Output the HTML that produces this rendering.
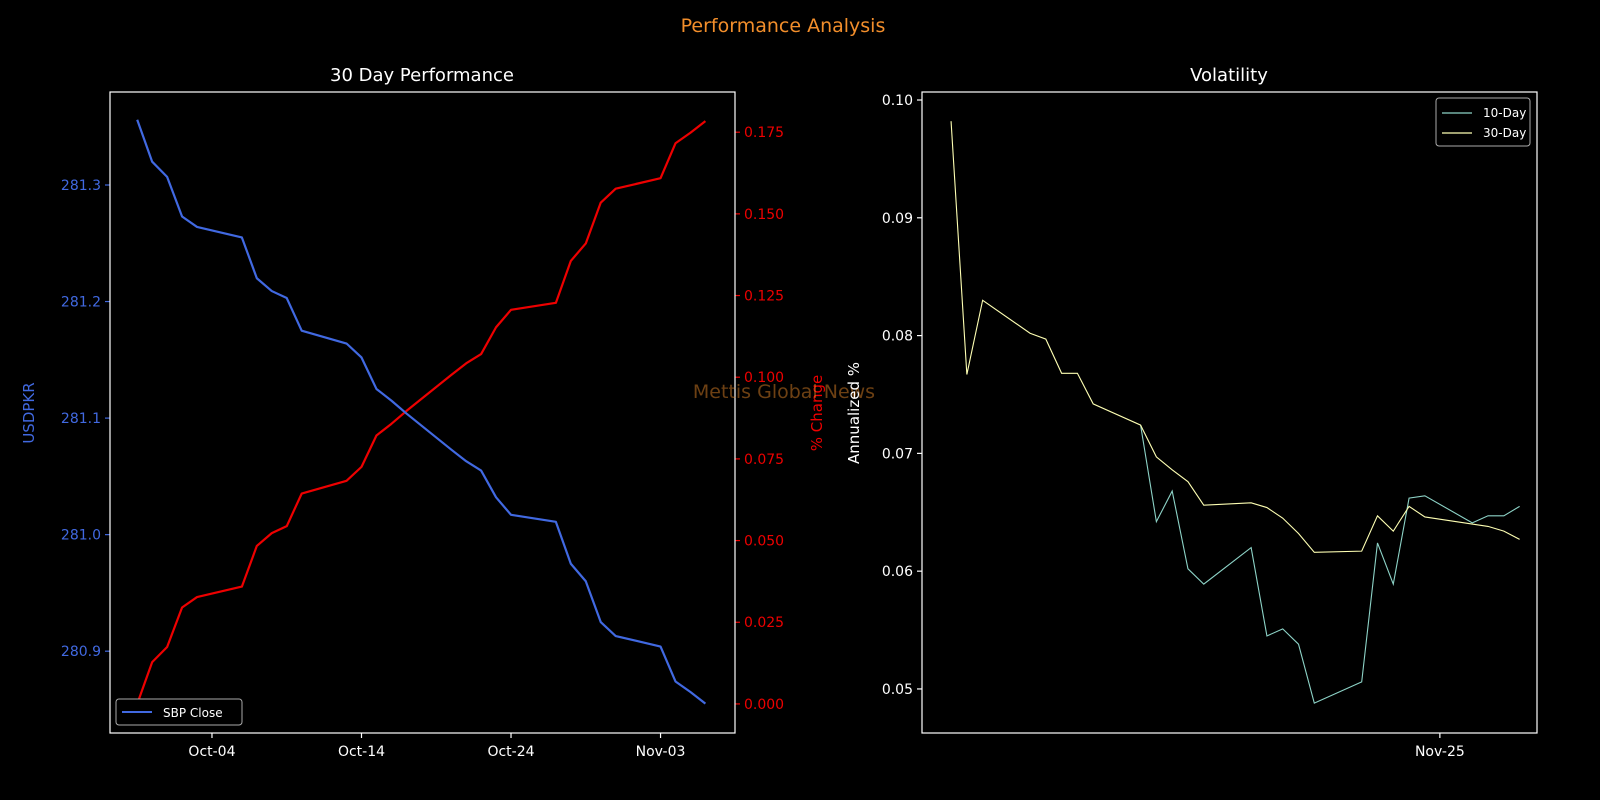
<!DOCTYPE html>
<html><head><meta charset="utf-8"><style>
html,body{margin:0;padding:0;background:#000;}
svg{display:block;font-family:"DejaVu Sans","Liberation Sans",sans-serif;}
</style></head><body>
<svg id="chart" width="1600" height="800" viewBox="0 0 1600 800">
<rect width="1600" height="800" fill="#000"/>
<text x="783" y="32" text-anchor="middle" fill="#f28e2b" font-size="19">Performance Analysis</text>
<g id="left"></g><g id="right"></g>
</svg>
<script>
// ---- Left chart data ----
const closeDates = ["2025-09-29","2025-09-30","2025-10-01","2025-10-02","2025-10-03","2025-10-06","2025-10-07","2025-10-08","2025-10-09","2025-10-10","2025-10-13","2025-10-14","2025-10-15","2025-10-16","2025-10-17","2025-10-20","2025-10-21","2025-10-22","2025-10-23","2025-10-24","2025-10-27","2025-10-28","2025-10-29","2025-10-30","2025-10-31","2025-11-03","2025-11-04","2025-11-05","2025-11-06"];
const closeValues = [281.356,281.320,281.307,281.273,281.264,281.255,281.220,281.209,281.203,281.175,281.164,281.152,281.125,281.115,281.104,281.073,281.063,281.055,281.032,281.017,281.011,280.975,280.960,280.925,280.913,280.904,280.874,280.865,280.855];
const leftTicks = [280.9,281.0,281.1,281.2,281.3];
const pctTicks = [0,0.025,0.05,0.075,0.1,0.125,0.15,0.175];
const dateTicks = ["2025-10-04","2025-10-14","2025-10-24","2025-11-03"];
const dateTickLabels = ["Oct-04","Oct-14","Oct-24","Nov-03"];
// ---- Right chart data (trading day index) ----
const volDays = [0,1,2,5,6,7,8,9,12,13,14,15,16,19,20,21,22,23,26,27,28,29,30,33,34,35,36];
const vol30 = [0.0982,0.0767,0.0830,0.0802,0.0797,0.0768,0.0768,0.0742,0.0724,0.0697,0.0686,0.0676,0.0656,0.0658,0.0654,0.0645,0.0632,0.0616,0.0617,0.0647,0.0634,0.0655,0.0646,0.0640,0.0638,0.0634,0.0627];
const vol10Days = [12,13,14,15,16,19,20,21,22,23,26,27,28,29,30,33,34,35,36];
const vol10 = [0.0724,0.0642,0.0668,0.0602,0.0589,0.0620,0.0545,0.0551,0.0538,0.0488,0.0506,0.0624,0.0589,0.0662,0.0664,0.0641,0.0647,0.0647,0.0655];
const volTicks = [0.05,0.06,0.07,0.08,0.09,0.10];
const volXTickDay = [30.95];
const volXTickLabels = ["Nov-25"];

const NS="http://www.w3.org/2000/svg";
function mk(parent,tag,attrs,text){const e=document.createElementNS(NS,tag);for(const k in attrs)e.setAttribute(k,attrs[k]);if(text!==undefined)e.textContent=text;parent.appendChild(e);return e;}
const L=document.getElementById('left'), R=document.getElementById('right');
const day0=Date.UTC(2025,9,4);
function dnum(s){const p=s.split('-');return (Date.UTC(+p[0],p[1]-1,+p[2])-day0)/86400000;}
// left axes
const lx0=110,lx1=735,ly0=92,ly1=733;
const xMin=-6.82,xMax=34.98;
const X=d=>lx0+(d-xMin)/(xMax-xMin)*(lx1-lx0);
const yMinL=280.8298,yMaxL=281.3798;
const YL=v=>ly1-(v-yMinL)/(yMaxL-yMinL)*(ly1-ly0);
const pMin=-0.0089,pMax=0.1873;
const YP=v=>ly1-(v-pMin)/(pMax-pMin)*(ly1-ly0);
let t;
t=mk(L,'text',{x:422,y:81,'text-anchor':'middle',fill:'#fff','font-size':18});
t.textContent='30 Day Performance';


leftTicks.forEach(v=>{const y=YL(v);
 mk(L,'line',{x1:lx0-5,x2:lx0,y1:y,y2:y,stroke:'#4169e1','stroke-width':1.2});
 const e=mk(L,'text',{x:lx0-9,y:y+5,'text-anchor':'end',fill:'#4169e1','font-size':14},v.toFixed(1));
 
 });
pctTicks.forEach(v=>{const y=YP(v);
 mk(L,'line',{x1:lx1,x2:lx1+5,y1:y,y2:y,stroke:'#e00','stroke-width':1.2});
 const e=mk(L,'text',{x:lx1+9,y:y+5,fill:'#e00','font-size':14},v.toFixed(3));
 
 });
dateTicks.forEach((d,i)=>{const x=X(dnum(d));
 mk(L,'line',{x1:x,x2:x,y1:ly1,y2:ly1+5,stroke:'#fff','stroke-width':1.2});
 const e=mk(L,'text',{x:x,y:ly1+23,'text-anchor':'middle',fill:'#fff','font-size':14},dateTickLabels[i]);
 
 });
t=mk(L,'text',{transform:'translate(34,413) rotate(-90)','text-anchor':'middle',fill:'#4169e1','font-size':15},'USDPKR');


t=mk(L,'text',{transform:'translate(822,413) rotate(-90)','text-anchor':'middle',fill:'#e00','font-size':15},'% Change');


const base=closeValues[0];
const pct=closeValues.map(v=>(base/v-1)*100);
let p=mk(L,'polyline',{points:closeDates.map((d,i)=>X(dnum(d))+','+YP(pct[i])).join(' '),fill:'none',stroke:'#e00','stroke-width':2.2,'stroke-linejoin':'round'});


p=mk(L,'polyline',{points:closeDates.map((d,i)=>X(dnum(d))+','+YL(closeValues[i])).join(' '),fill:'none',stroke:'#4169e1','stroke-width':2.2,'stroke-linejoin':'round'});


mk(L,'rect',{x:lx0,y:ly0,width:lx1-lx0,height:ly1-ly0,fill:'none',stroke:'#fff','stroke-width':1.2});
const lg=mk(L,'g',{});


mk(lg,'rect',{x:116,y:699,width:126,height:26,rx:3,fill:'#000',stroke:'#aaa','stroke-width':1});
mk(lg,'line',{x1:122,x2:152,y1:712,y2:712,stroke:'#4169e1','stroke-width':2});
mk(lg,'text',{x:163,y:717,fill:'#fff','font-size':12},'SBP Close');
t=mk(L,'text',{x:784,y:398,'text-anchor':'middle',fill:'#f28e2b','fill-opacity':0.45,'font-size':19},'Mettis Global News');


// right axes
const rx0=922,rx1=1537,ry0=92,ry1=733;
const vxMin=-1.84,vxMax=37.1,vyMin=0.04626,vyMax=0.10068;
const VX=d=>rx0+(d-vxMin)/(vxMax-vxMin)*(rx1-rx0);
const VY=v=>ry1-(v-vyMin)/(vyMax-vyMin)*(ry1-ry0);
t=mk(R,'text',{x:1229,y:81,'text-anchor':'middle',fill:'#fff','font-size':18},'Volatility');


volTicks.forEach(v=>{const y=VY(v);
 mk(R,'line',{x1:rx0-5,x2:rx0,y1:y,y2:y,stroke:'#fff','stroke-width':1.2});
 const e=mk(R,'text',{x:rx0-9,y:y+5,'text-anchor':'end',fill:'#fff','font-size':14},v.toFixed(2));
 
 });
volXTickDay.forEach((d,i)=>{const x=VX(d);
 mk(R,'line',{x1:x,x2:x,y1:ry1,y2:ry1+5,stroke:'#fff','stroke-width':1.2});
 const e=mk(R,'text',{x:x,y:ry1+23,'text-anchor':'middle',fill:'#fff','font-size':14},volXTickLabels[i]);
 
 });
t=mk(R,'text',{transform:'translate(859,413) rotate(-90)','text-anchor':'middle',fill:'#fff','font-size':15},'Annualized %');


p=mk(R,'polyline',{points:vol10Days.map((d,i)=>VX(d)+','+VY(vol10[i])).join(' '),fill:'none',stroke:'#8dd3c7','stroke-width':1.1});


p=mk(R,'polyline',{points:volDays.map((d,i)=>VX(d)+','+VY(vol30[i])).join(' '),fill:'none',stroke:'#feffb3','stroke-width':1.1});


mk(R,'rect',{x:rx0,y:ry0,width:rx1-rx0,height:ry1-ry0,fill:'none',stroke:'#fff','stroke-width':1.2});
const rg=mk(R,'g',{});


mk(rg,'rect',{x:1436,y:98,width:94,height:48,rx:3,fill:'#000',stroke:'#aaa','stroke-width':1});
mk(rg,'line',{x1:1442,x2:1472,y1:113,y2:113,stroke:'#8dd3c7','stroke-width':1.2});
mk(rg,'text',{x:1483,y:117,fill:'#fff','font-size':12},'10-Day');
mk(rg,'line',{x1:1442,x2:1472,y1:133,y2:133,stroke:'#feffb3','stroke-width':1.2});
mk(rg,'text',{x:1483,y:137,fill:'#fff','font-size':12},'30-Day');
</script>
</body></html>
